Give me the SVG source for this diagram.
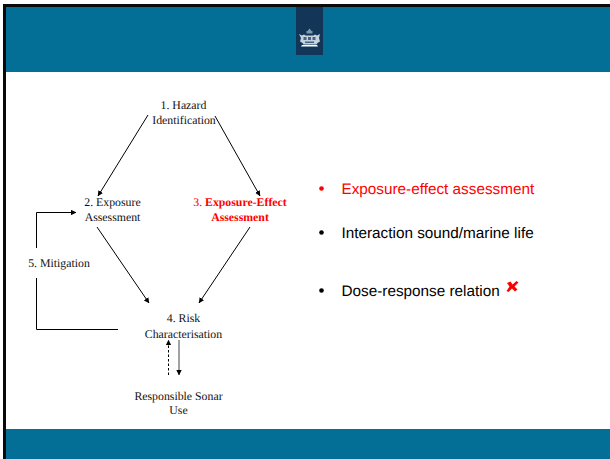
<svg xmlns="http://www.w3.org/2000/svg" width="610" height="459" viewBox="0 0 610 459">
<style>
text{text-rendering:geometricPrecision}
.s{font-family:"Liberation Serif","Times New Roman",serif;font-size:11.8px;fill:#111;text-anchor:middle}
.r{fill:#f00}
.b{font-weight:bold}
.a{font-family:"Liberation Sans",Arial,sans-serif;font-size:15.3px;fill:#000}
.l{fill:none;stroke:#000;stroke-width:1}
</style>
<defs>
<marker id="h" viewBox="0 0 8 8" refX="7.5" refY="4" markerWidth="5.5" markerHeight="5.5" markerUnits="userSpaceOnUse" orient="auto"><path d="M0 0L8 4L0 8Z" fill="#000"/></marker>
</defs>
<rect width="610" height="459" fill="#fff"/>
<g id="frame">
<rect x="3" y="4" width="607" height="3.500" fill="#0a0a0a"/>
<rect x="3" y="4" width="3" height="455" fill="#0a0a0a"/>
<rect x="6" y="7" width="604" height="65" fill="#036f97"/>
<rect x="6" y="429" width="604" height="30" fill="#036f97"/>
<rect x="296" y="7" width="27" height="48" fill="#123558"/>
</g>
<g id="crest" fill="#c4d2de">
<path d="M309.500 28.500l2 2.500h1v2.500h-6v-2.500h1z" fill="#7f98ad"/>
<path d="M299 34l3 1.500 2-1 1.500 1h8l1.500-1 2 1 3-1.500-1 4 1 3.500-2.500 1.500-1 1.500h-13l-1-1.500-2.500-1.500 1-3.500z"/>
<path d="M302 45h15l1 1.500h-17z" fill="#fff"/>
<path d="M303.500 37h3v3h-3zM308 37h3v3h-3zM312.500 37h3v3h-3zM305 41.500h9v1.500h-9z" fill="#47637f"/>
</g>
<g id="connectors">
<path class="l" marker-end="url(#h)" d="M148 115L98 196"/>
<path class="l" marker-end="url(#h)" d="M215 116L260 196"/>
<path class="l" marker-end="url(#h)" d="M97 227L149 303"/>
<path class="l" marker-end="url(#h)" d="M250 227L199 303"/>
<path class="l" marker-end="url(#h)" d="M36.500 248V212.500H76"/>
<path class="l" d="M36.500 278V329.500H118"/>
<path class="l" stroke-dasharray="2.500 2" marker-end="url(#h)" d="M168.500 375V340"/>
<path class="l" style="stroke:#444" marker-end="url(#h)" d="M179 340V375"/>
</g>
<g id="n1"><text class="s" x="183.500" y="109">1. Hazard</text><text class="s" x="184" y="124">Identification</text></g>
<g id="n2"><text class="s" x="112.500" y="206">2. Exposure</text><text class="s" x="112.500" y="221">Assessment</text></g>
<g id="n3"><text class="s r" x="240" y="206">3. <tspan class="b">Exposure-Effect</tspan></text><text class="s r b" x="240" y="221">Assessment</text></g>
<g id="n4"><text class="s" x="183.500" y="322">4. Risk</text><text class="s" x="183.500" y="338">Characterisation</text></g>
<g id="n5"><text class="s" x="59" y="267">5. Mitigation</text></g>
<g id="n6"><text class="s" x="178.500" y="400">Responsible Sonar</text><text class="s" x="178.500" y="414">Use</text></g>
<g id="bullets">
<circle cx="321.500" cy="188.500" r="2.300" fill="#f00"/>
<text class="a" x="341.500" y="194" style="fill:#f00">Exposure-effect assessment</text>
<circle cx="321.500" cy="232.500" r="2.300" fill="#000"/>
<text class="a" x="341.500" y="238">Interaction sound/marine life</text>
<circle cx="321.500" cy="290.500" r="2.300" fill="#000"/>
<text class="a" x="341.500" y="296">Dose-response relation</text>
<path id="cross" d="M507 283l3.500-1.500 2 3 4-3.500 2 1.500-4 4 3 3-2.500 2-3-3-3.500 3.500-2-1 3-4.500z" fill="#f00"/>
</g>
</svg>
